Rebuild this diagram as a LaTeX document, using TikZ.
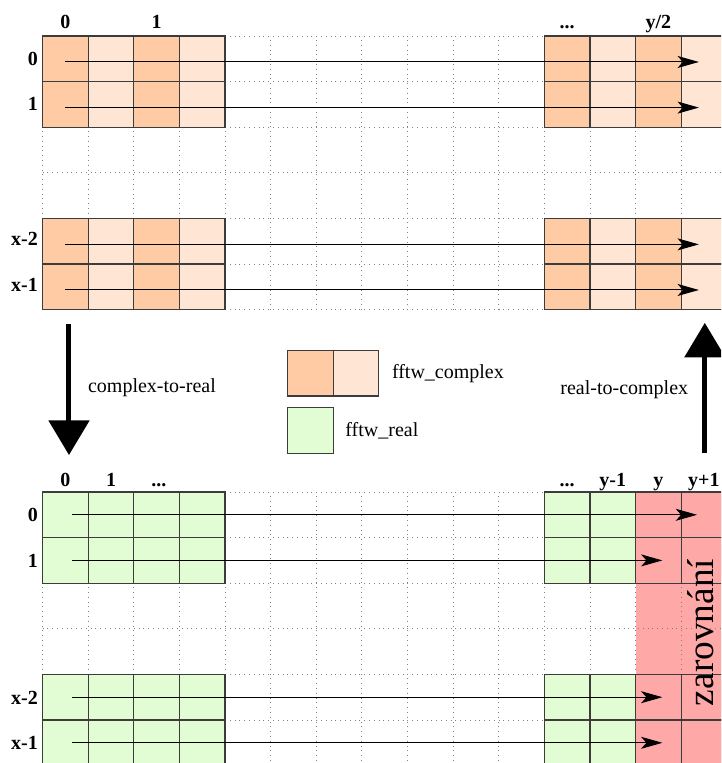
\documentclass[tikz,border=0pt]{standalone}
\usepackage{fontspec}
\setmainfont{Liberation Serif}
\definecolor{cplxdark}{HTML}{FFCBA5}
\definecolor{cplxlight}{HTML}{FFE5D4}
\definecolor{realgreen}{HTML}{E2FCD4}
\definecolor{padred}{HTML}{FFA8A8}
\definecolor{gridgray}{HTML}{3C3C3C}
\usetikzlibrary{arrows.meta,positioning}

\begin{document}
\begin{tikzpicture}[x=34.2pt,y=34.2pt,
    font=\fontsize{15pt}{18pt}\selectfont,
    cell/.style={draw=gridgray,line width=0.9pt},
    dotgrid/.style={gray,line width=0.6pt,dash pattern=on 0.6pt off 3pt},
    rowarrow/.style={line width=0.75pt,-{Stealth[length=16pt,width=9pt,inset=4pt]}},
    bigarrow/.style={line width=3.75pt,-{Triangle[length=26pt,width=30pt]}},
    idx/.style={font=\fontsize{15pt}{18pt}\selectfont\bfseries,inner sep=0pt},
    legendbox/.style={draw=gridgray,line width=0.9pt,minimum size=34.2pt,inner sep=0pt,outer sep=0pt},
    legendtext/.style={inner sep=0pt,anchor=west}]

  \useasboundingbox (-0.936,0.789) rectangle (14.875,-15.943);
  \clip (-0.936,0.789) rectangle (14.875,-15.943);

  % padding columns of the real array
  \fill[padred] (13,-10) rectangle (15,-16);

  % dotted background grids
  \draw[dotgrid] (0,-6) grid[step=1] (15,0);
  \draw[dotgrid] (0,-16) grid[step=1] (15,-10);

  % complex array (top)
  \foreach \r in {0,1,4,5} {
    \foreach \c in {0,2,11,13}
      \draw[cell,fill=cplxdark] (\c,-\r) rectangle +(1,-1);
    \foreach \c in {1,3,12,14}
      \draw[cell,fill=cplxlight] (\c,-\r) rectangle +(1,-1);
    \draw[rowarrow] (0.5,-\r-0.57) -- (14.39,-\r-0.57);
  }

  % real array (bottom)
  \foreach \r in {10,11,14,15} {
    \foreach \c in {0,1,2,3,11,12}
      \draw[cell,fill=realgreen] (\c,-\r) rectangle +(1,-1);
    \foreach \c in {13,14}
      \draw[cell,fill=padred] (\c,-\r) rectangle +(1,-1);
  }
  \draw[rowarrow] (0.64,-10.5) -- (14.35,-10.5);
  \foreach \r in {11,14,15}
    \draw[rowarrow] (0.64,-\r-0.5) -- (13.59,-\r-0.5);

  \node[rotate=90,anchor=base,inner sep=0pt,font=\fontsize{28pt}{32pt}\selectfont] (pad) at (14.70,-13.08) {zarovnání};

  % indices of the complex array
  \node[idx,anchor=base] (ctop0) at (0.5,0.16) {0};
  \node[idx,anchor=base] (ctop1) at (2.5,0.16) {1};
  \node[idx,anchor=base] (ctopdots) at (11.5,0.16) {...};
  \node[idx,anchor=base] (ctophalf) at (13.5,0.16) {y/2};
  \node[idx,anchor=east] (crow0) at (-0.1,-0.5) {0};
  \node[idx,anchor=east] (crow1) at (-0.1,-1.5) {1};
  \node[idx,anchor=east] (crowm2) at (-0.1,-4.45) {x-2};
  \node[idx,anchor=east] (crowm1) at (-0.1,-5.46) {x-1};

  % indices of the real array
  \node[idx,anchor=base] (rtop0) at (0.5,-9.885) {0};
  \node[idx,anchor=base] (rtop1) at (1.5,-9.885) {1};
  \node[idx,anchor=base] (rtopdots) at (2.55,-9.885) {...};
  \node[idx,anchor=base] (rtopdotsb) at (11.5,-9.885) {...};
  \node[idx,anchor=base] (rtopm1) at (12.5,-9.885) {y-1};
  \node[idx,anchor=base] (rtopy) at (13.5,-9.885) {y};
  \node[idx,anchor=base] (rtopp1) at (14.5,-9.885) {y+1};
  \node[idx,anchor=east] (rrow0) at (-0.1,-10.5) {0};
  \node[idx,anchor=east] (rrow1) at (-0.1,-11.51) {1};
  \node[idx,anchor=east] (rrowm2) at (-0.1,-14.52) {x-2};
  \node[idx,anchor=east] (rrowm1) at (-0.1,-15.5) {x-1};

  % transforms
  \coordinate (c2rstart) at (0.577,-6.32);
  \coordinate (c2rend) at (0.577,-9.19);
  \draw[bigarrow] (c2rstart) -- (c2rend);
  \node[legendtext] (c2rlabel) at (0.99,-7.72) {complex-to-real};

  \coordinate (r2cstart) at (14.52,-9.14);
  \coordinate (r2cend) at (14.52,-6.29);
  \draw[bigarrow] (r2cstart) -- (r2cend);
  \node[inner sep=0pt,anchor=east] (r2clabel) at (14.16,-7.76) {real-to-complex};

  % legend
  \node[legendbox,fill=cplxdark] (cplxre) at (5.87,-7.395) {};
  \node[legendbox,fill=cplxlight,right=0pt of cplxre] (cplxim) {};
  \node[legendtext,right=9.75pt of cplxim] (cplxtext) {fftw\_complex};
  \node[legendbox,fill=realgreen] (realbox) at (5.87,-8.65) {};
  \node[legendtext,right=9pt of realbox] (realtext) {fftw\_real};

\end{tikzpicture}
\end{document}
